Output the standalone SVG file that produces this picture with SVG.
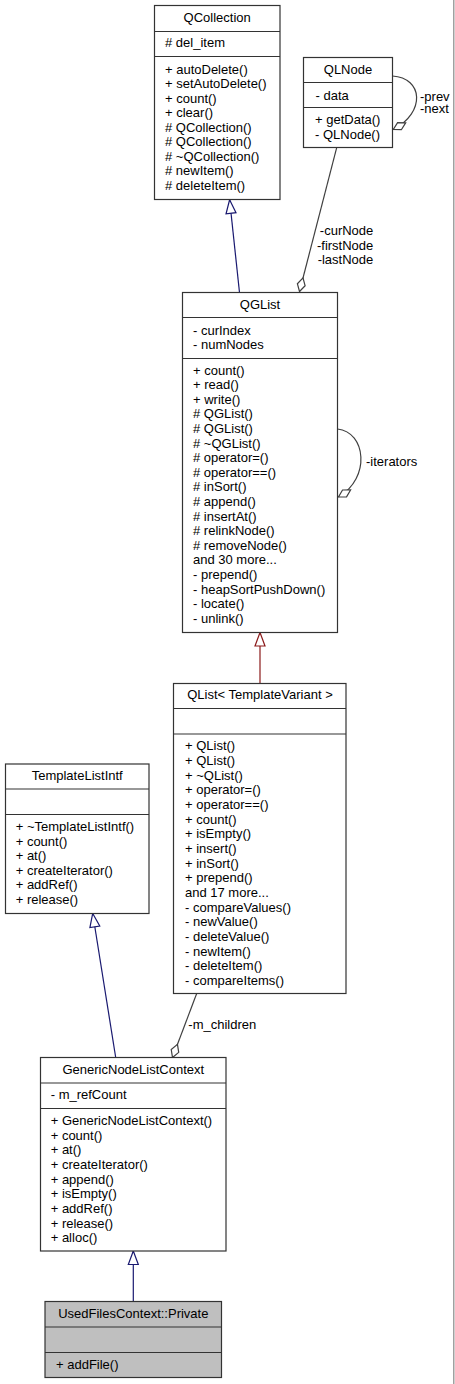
<svg xmlns="http://www.w3.org/2000/svg" width="455" height="1384" viewBox="0 0 455 1384">
<style>
.bg{fill:#ffffff}
.box{fill:#ffffff;stroke:#333333;stroke-width:1.2}
.gray{fill:#bfbfbf}
.sep{stroke:#333333;stroke-width:1.2}
text{font-family:"Liberation Sans",Arial,sans-serif;font-size:13px;fill:#000000}
.c{text-anchor:middle}
.e{text-anchor:end}
.inhB{fill:none;stroke:#191970;stroke-width:1.2}
.inhR{fill:none;stroke:#8b1a1a;stroke-width:1.2}
.agg{fill:none;stroke:#404040;stroke-width:1.2}
</style>
<defs>
<marker id="triB" markerUnits="userSpaceOnUse" markerWidth="15" markerHeight="12" refX="13.5" refY="5" orient="auto" overflow="visible"><path d="M0,0 L13.5,5 L0,10 Z" fill="#ffffff" stroke="#191970" stroke-width="1.2"/></marker>
<marker id="triR" markerUnits="userSpaceOnUse" markerWidth="15" markerHeight="12" refX="13.5" refY="5" orient="auto" overflow="visible"><path d="M0,0 L13.5,5 L0,10 Z" fill="#ffffff" stroke="#8b1a1a" stroke-width="1.2"/></marker>
<marker id="dia" markerUnits="userSpaceOnUse" markerWidth="15" markerHeight="10" refX="14" refY="4" orient="auto" overflow="visible"><path d="M0,4 L7,0 L14,4 L7,8 Z" fill="#ffffff" stroke="#404040" stroke-width="1.2"/></marker>
</defs>
<rect class="bg" x="0" y="0" width="455" height="1384"/>
<rect x="453" y="0" width="1.5" height="1384" fill="#a0a0a0"/>

<g id="connectors">
<path class="inhB" d="M239.5,292.5 L229.6,199.8" marker-end="url(#triB)"/>
<path class="agg" d="M336.7,147.7 L299.5,291.5" marker-end="url(#dia)"/>
<path class="agg" d="M392.5,76 C423,78 426,112 393.3,129.5" marker-end="url(#dia)"/>
<path class="agg" d="M337.5,429 C366,432 371,478 338.5,497" marker-end="url(#dia)"/>
<path class="inhR" d="M260,683.5 L260,632.5" marker-end="url(#triR)"/>
<path class="inhB" d="M115.7,1057.5 L92.7,913.5" marker-end="url(#triB)"/>
<path class="agg" d="M196.7,993.5 L172.5,1057.5" marker-end="url(#dia)"/>
<path class="inhB" d="M133.3,1301.5 L133.3,1251" marker-end="url(#triB)"/>
<text x="420" y="100.5">-prev</text>
<text x="420" y="113.3">-next</text>
<text class="e" x="373.3" y="235.3">-curNode</text>
<text class="e" x="373.3" y="249.7">-firstNode</text>
<text class="e" x="373.3" y="264">-lastNode</text>
<text x="366" y="466.3">-iterators</text>
<text x="188.3" y="1029">-m_children</text>
</g>

<g id="QCollection">
<rect class="box" x="154.5" y="5.5" width="125.5" height="194"/>
<line class="sep" x1="154.5" y1="31.5" x2="280" y2="31.5"/>
<line class="sep" x1="154.5" y1="56.5" x2="280" y2="56.5"/>
<text class="c" x="217.2" y="22">QCollection</text>
<text x="165" y="47.3"># del_item</text>
<text x="165" y="73.5">+ autoDelete()</text>
<text x="165" y="88">+ setAutoDelete()</text>
<text x="165" y="102.5">+ count()</text>
<text x="165" y="117">+ clear()</text>
<text x="165" y="131.5"># QCollection()</text>
<text x="165" y="146"># QCollection()</text>
<text x="165" y="160.5"># ~QCollection()</text>
<text x="165" y="175"># newItem()</text>
<text x="165" y="189.5"># deleteItem()</text>
</g>

<g id="QLNode">
<rect class="box" x="303.5" y="57.5" width="89" height="90"/>
<line class="sep" x1="303.5" y1="82.5" x2="392.5" y2="82.5"/>
<line class="sep" x1="303.5" y1="107.5" x2="392.5" y2="107.5"/>
<text class="c" x="348" y="73.5">QLNode</text>
<text x="315.5" y="99.5">- data</text>
<text x="315" y="123.7">+ getData()</text>
<text x="315" y="139">- QLNode()</text>
</g>

<g id="QGList">
<rect class="box" x="182.5" y="292.5" width="155" height="340"/>
<line class="sep" x1="182.5" y1="317.5" x2="337.5" y2="317.5"/>
<line class="sep" x1="182.5" y1="358.5" x2="337.5" y2="358.5"/>
<text class="c" x="260" y="309">QGList</text>
<text x="193" y="334.5">- curIndex</text>
<text x="193" y="349">- numNodes</text>
<text x="193" y="374.5">+ count()</text>
<text x="193" y="389.1">+ read()</text>
<text x="193" y="403.7">+ write()</text>
<text x="193" y="418.3"># QGList()</text>
<text x="193" y="432.9"># QGList()</text>
<text x="193" y="447.5"># ~QGList()</text>
<text x="193" y="462.1"># operator=()</text>
<text x="193" y="476.7"># operator==()</text>
<text x="193" y="491.3"># inSort()</text>
<text x="193" y="505.9"># append()</text>
<text x="193" y="520.5"># insertAt()</text>
<text x="193" y="535.1"># relinkNode()</text>
<text x="193" y="549.7"># removeNode()</text>
<text x="193" y="564.3">and 30 more...</text>
<text x="193" y="578.9">- prepend()</text>
<text x="193" y="593.5">- heapSortPushDown()</text>
<text x="193" y="608.1">- locate()</text>
<text x="193" y="622.7">- unlink()</text>
</g>

<g id="QList_TemplateVariant">
<rect class="box" x="173.5" y="683.5" width="172.5" height="310"/>
<line class="sep" x1="173.5" y1="708.5" x2="346" y2="708.5"/>
<line class="sep" x1="173.5" y1="734" x2="346" y2="734"/>
<text class="c" x="260" y="699">QList&lt; TemplateVariant &gt;</text>
<text x="185" y="750.3">+ QList()</text>
<text x="185" y="765">+ QList()</text>
<text x="185" y="779.6">+ ~QList()</text>
<text x="185" y="794.3">+ operator=()</text>
<text x="185" y="809">+ operator==()</text>
<text x="185" y="823.7">+ count()</text>
<text x="185" y="838.3">+ isEmpty()</text>
<text x="185" y="853">+ insert()</text>
<text x="185" y="867.7">+ inSort()</text>
<text x="185" y="882.3">+ prepend()</text>
<text x="185" y="897">and 17 more...</text>
<text x="185" y="911.7">- compareValues()</text>
<text x="185" y="926.4">- newValue()</text>
<text x="185" y="941">- deleteValue()</text>
<text x="185" y="955.7">- newItem()</text>
<text x="185" y="970.4">- deleteItem()</text>
<text x="185" y="985">- compareItems()</text>
</g>

<g id="TemplateListIntf">
<rect class="box" x="5.5" y="764" width="143.5" height="149.5"/>
<line class="sep" x1="5.5" y1="789" x2="149" y2="789"/>
<line class="sep" x1="5.5" y1="814.5" x2="149" y2="814.5"/>
<text class="c" x="77.2" y="780.3">TemplateListIntf</text>
<text x="15.7" y="831.3">+ ~TemplateListIntf()</text>
<text x="15.7" y="845.8">+ count()</text>
<text x="15.7" y="860.3">+ at()</text>
<text x="15.7" y="874.8">+ createIterator()</text>
<text x="15.7" y="889.3">+ addRef()</text>
<text x="15.7" y="903.8">+ release()</text>
</g>

<g id="GenericNodeListContext">
<rect class="box" x="40.5" y="1057.5" width="185.5" height="193.5"/>
<line class="sep" x1="40.5" y1="1083" x2="226" y2="1083"/>
<line class="sep" x1="40.5" y1="1108.5" x2="226" y2="1108.5"/>
<text class="c" x="133.3" y="1074">GenericNodeListContext</text>
<text x="50.7" y="1099">- m_refCount</text>
<text x="50.7" y="1125">+ GenericNodeListContext()</text>
<text x="50.7" y="1139.7">+ count()</text>
<text x="50.7" y="1154.3">+ at()</text>
<text x="50.7" y="1169">+ createIterator()</text>
<text x="50.7" y="1183.7">+ append()</text>
<text x="50.7" y="1198.3">+ isEmpty()</text>
<text x="50.7" y="1213">+ addRef()</text>
<text x="50.7" y="1227.7">+ release()</text>
<text x="50.7" y="1242.3">+ alloc()</text>
</g>

<g id="UsedFilesContext_Private">
<rect class="box gray" x="45" y="1301.5" width="176.5" height="76"/>
<line class="sep" x1="45" y1="1327" x2="221.5" y2="1327"/>
<line class="sep" x1="45" y1="1352.5" x2="221.5" y2="1352.5"/>
<text class="c" x="133.3" y="1318">UsedFilesContext::Private</text>
<text x="56" y="1369">+ addFile()</text>
</g>
</svg>
